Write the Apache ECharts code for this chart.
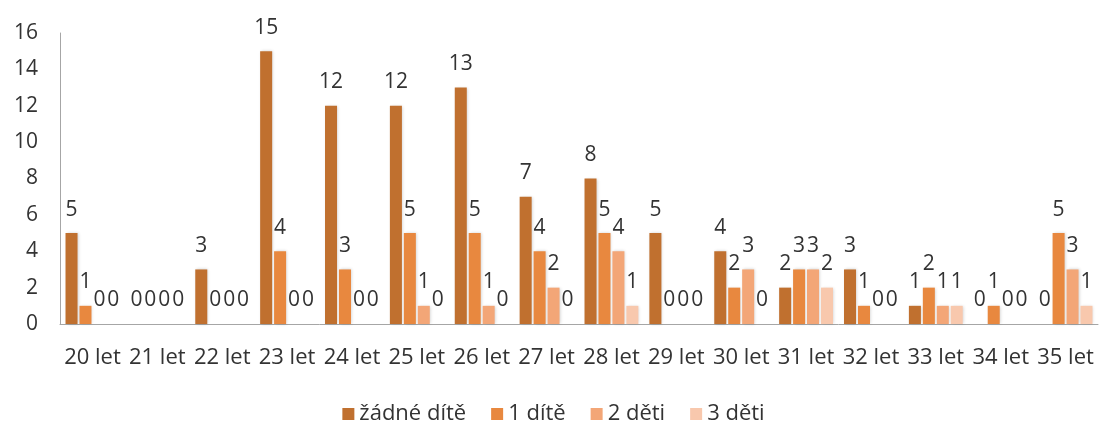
<!DOCTYPE html>
<html>
<head>
<meta charset="utf-8">
<script src="https://cdn.jsdelivr.net/npm/echarts@6/dist/echarts.min.js"></script>
<style>
  html, body { margin: 0; padding: 0; background: #fff; }
  #main { width: 1107px; height: 425px; }
</style>
</head>
<body>
<div id="main"></div>
<script>
const vekKategorie = ['20 let', '21 let', '22 let', '23 let', '24 let', '25 let', '26 let', '27 let',
  '28 let', '29 let', '30 let', '31 let', '32 let', '33 let', '34 let', '35 let'];
const zadneDite = [5, 0, 3, 15, 12, 12, 13, 7, 8, 5, 4, 2, 3, 1, 0, 0];
const jednoDite = [1, 0, 0, 4, 3, 5, 5, 4, 5, 0, 2, 3, 1, 2, 1, 5];
const dveDeti   = [0, 0, 0, 0, 0, 1, 1, 2, 4, 0, 3, 3, 0, 1, 0, 3];
const triDeti   = [0, 0, 0, 0, 0, 0, 0, 0, 1, 0, 0, 2, 0, 1, 0, 1];

const nazvy = ['žádné dítě', '1 dítě', '2 děti', '3 děti'];
const barvy = ['#C0702F', '#E8883F', '#F3A677', '#F8C8AD'];
const hodnoty = [zadneDite, jednoDite, dveDeti, triDeti];

const font = '"Open Sans", "DejaVu Sans", sans-serif';

var myChart = echarts.init(document.getElementById('main'));

var option = {
    animation: false,
    color: barvy,
    grid: { left: 60, right: 9, top: 33, bottom: 101 },
    legend: {
        top: 398,
        left: 'center',
        itemWidth: 12,
        itemHeight: 12,
        itemGap: 25,
        icon: 'rect',
        textStyle: { fontFamily: font, fontSize: 22, color: '#333' },
        data: nazvy
    },
    xAxis: {
        type: 'category',
        data: vekKategorie,
        axisLine: { lineStyle: { color: '#a6a6a6', width: 1 } },
        axisTick: { show: false },
        axisLabel: { fontFamily: font, fontSize: 22, color: '#333', margin: 23, interval: 0 }
    },
    yAxis: {
        type: 'value',
        min: 0,
        max: 16,
        interval: 2,
        axisLine: { show: true, lineStyle: { color: '#a6a6a6', width: 1 } },
        axisTick: { show: false },
        splitLine: { show: false },
        axisLabel: { fontFamily: font, fontSize: 21, color: '#333', margin: 22 }
    },
    series: nazvy.map(function (n, i) {
        return {
            name: n,
            type: 'bar',
            data: hodnoty[i],
            barGap: '16%',
            barCategoryGap: '17%',
            itemStyle: {
                shadowColor: 'rgba(0,0,0,0.18)',
                shadowBlur: 3,
                shadowOffsetX: 1
            },
            label: {
                show: true,
                position: 'top',
                distance: 13,
                fontFamily: font,
                fontSize: 21,
                color: '#333'
            }
        };
    })
};

myChart.setOption(option);
</script>
</body>
</html>
